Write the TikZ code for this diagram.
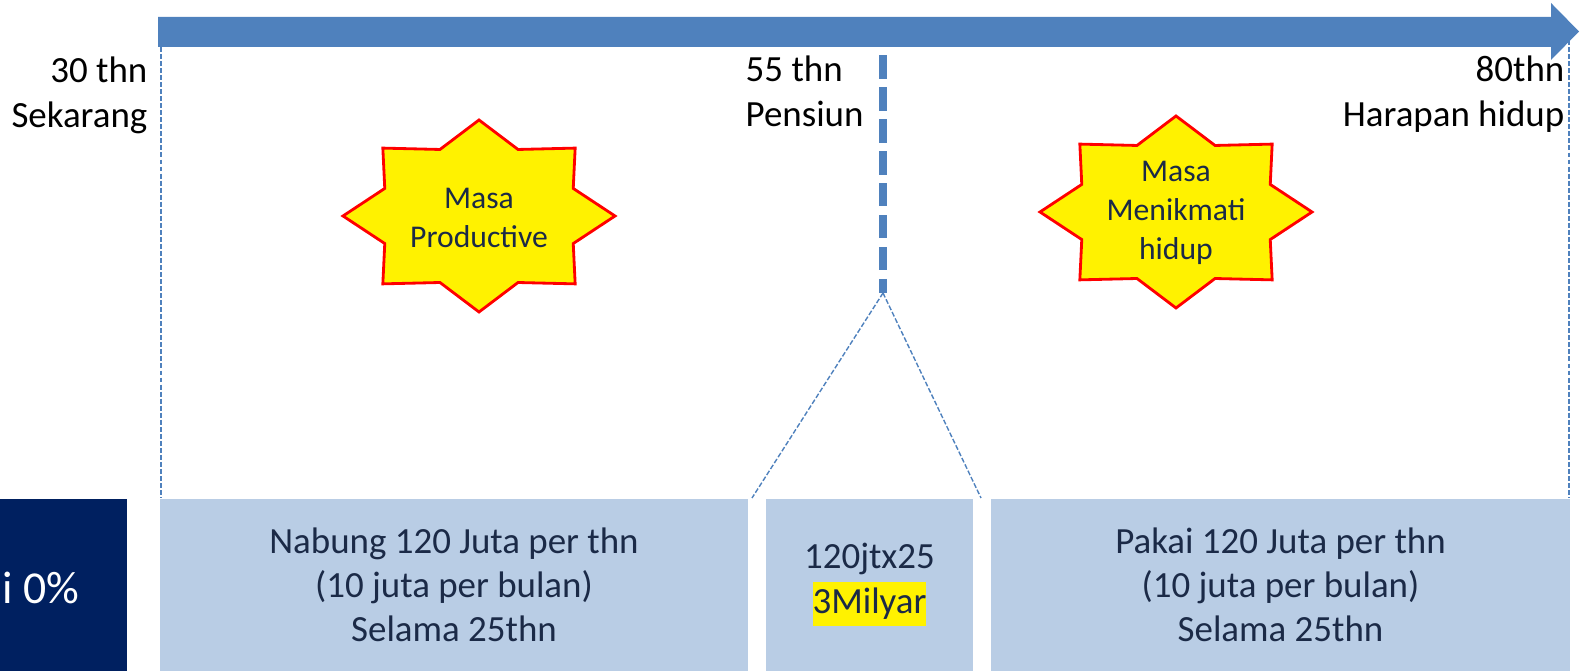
\documentclass[tikz,border=0pt]{standalone}
\usepackage{fontspec}
\setmainfont{Carlito}
\usetikzlibrary{positioning,calc}
\definecolor{ppblue}{HTML}{4F81BD}
\definecolor{boxblue}{HTML}{B9CDE5}
\definecolor{navy}{HTML}{002060}
\definecolor{inktext}{HTML}{1B2A47}
\newcommand{\sorot}[1]{{\setlength{\fboxsep}{0pt}\colorbox{yellow}{\strut#1}}}
\newcommand{\burststar}[2]{%
  \draw[burst] plot[samples at={0,22.5,...,337.5}]
    ({#1+136*(0.875+0.125*cos(8*\x))*cos(\x)},
     {#2+96*(0.875+0.125*cos(8*\x))*sin(\x)}) -- cycle;}

\begin{document}
\begin{tikzpicture}[x=0.01cm,y=-0.01cm]
  \tikzstyle{yearlabel}=[inner sep=0pt,text=black,
    font=\fontsize{10.5}{12.8}\selectfont]
  \tikzstyle{lightbox}=[fill=boxblue,inner sep=0pt,minimum height=1.72cm,
    align=center,text=inktext,font=\fontsize{10.5}{12.6}\selectfont]
  \tikzstyle{burst}=[fill=yellow,draw=red,line width=0.8pt]
  \tikzstyle{bursttext}=[align=center,text=inktext,
    font=\fontsize{9}{11}\selectfont]
  \tikzstyle{thindash}=[ppblue,line width=0.4pt,dash pattern=on 1.4pt off 0.6pt]
  \tikzstyle{thickdash}=[ppblue,line width=2pt,dash pattern=on 6.63pt off 2.45pt]

  \useasboundingbox (0,0) rectangle (1585,671);

  \fill[ppblue] (158,17) -- (1551,17) -- (1551,3) -- (1579,31.5)
    -- (1551,60) -- (1551,47) -- (158,47) -- cycle;

  \node [yearlabel,anchor=base east,align=right] (sekarang) at (148,128)
    {30 thn\\Sekarang};
  \node [yearlabel,anchor=base west,align=left] (pensiun) at (745,127)
    {55 thn\\Pensiun};
  \node [yearlabel,anchor=base east,align=right] (harapan) at (1565,127)
    {80thn\\Harapan hidup};

  \burststar{479}{216}
  \node [bursttext] (produktif) at (479,218) {Masa\\Productive};
  \burststar{1176}{212}
  \node [bursttext] (menikmati) at (1176,213) {Masa\\Menikmati\\hidup};

  \node [fill=navy,inner sep=0pt,minimum width=1.37cm,minimum height=1.72cm]
    (inflasi) at (58.5,585) {};
  \node [anchor=east,inner sep=0pt,text=white,font=\fontsize{13}{15}\selectfont]
    (inflasitext) at (80,588) {i 0\%};

  \node [lightbox,minimum width=5.88cm] (nabung) at (454,585)
    {Nabung 120 Juta per thn\\(10 juta per bulan)\\Selama 25thn};
  \node [lightbox,minimum width=2.07cm] (milyar) at (869.5,585)
    {120jtx25\\\sorot{3Milyar}};
  \node [lightbox,minimum width=5.79cm] (pakai) at (1280.5,585)
    {Pakai 120 Juta per thn\\(10 juta per bulan)\\Selama 25thn};

  \coordinate (awal) at (161,47);
  \coordinate (akhir) at (1569,40);
  \coordinate (pensiunatas) at (883,23.5);
  \coordinate (pensiunbawah) at (883,293);
  \coordinate (kiri) at (752,498);
  \coordinate (kanan) at (981,498);

  \draw[thindash] (awal) -- (awal |- nabung.north);
  \draw[thindash] (akhir) -- (akhir |- pakai.north);
  \draw[thickdash] (pensiunatas) -- (pensiunbawah);
  \draw[thindash] (pensiunbawah) -- (kiri);
  \draw[thindash] (pensiunbawah) -- (kanan);
\end{tikzpicture}
\end{document}
